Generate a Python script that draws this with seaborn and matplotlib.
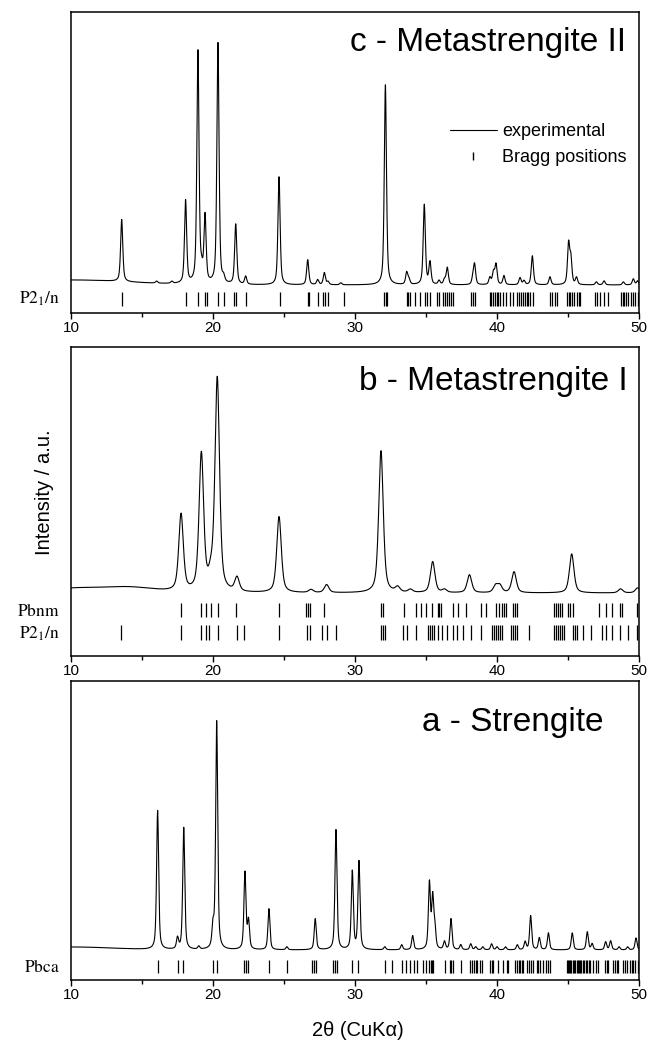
import numpy as np
import pandas as pd
import matplotlib
matplotlib.use("Agg")
import matplotlib.pyplot as plt
from matplotlib.lines import Line2D
from matplotlib.ticker import MultipleLocator
import seaborn as sns

# ---------------- data ----------------
# panel c - Metastrengite II : peak positions (2theta), heights (a.u.)
c_pos = [13.57, 16.03, 17.1, 18.07, 18.94, 19.2, 19.44, 20.35, 20.75, 21.6, 22.3,
         24.65, 26.67, 27.37, 27.84, 28.1, 29.0, 32.14, 33.64, 33.8, 34.88, 35.28,
         35.92, 36.3, 36.5, 38.3, 38.42, 39.5, 39.75, 39.93, 40.49, 41.62, 41.9,
         42.49, 43.73, 45.04, 45.2, 45.6, 47.0, 47.54, 48.9, 49.6, 49.9]
c_int = [62, 2, 2, 83, 232, 10, 66, 241, 5, 60, 8,
         108, 25, 5, 12, 3, 2, 200, 12, 5, 80, 22,
         4, 5, 17, 6, 20, 7, 12, 20, 9, 7, 4,
         29, 8, 40, 25, 7, 3, 4, 3, 6, 4]
c_bg_pos, c_bg_int, c_bg_wid = [10.0], [5], [4.0]
c_bragg = [13.57, 18.08, 18.94, 19.44, 19.58, 20.35, 20.75, 21.48, 21.62, 22.30, 24.70,
           26.67, 26.76, 27.37, 27.77, 27.91, 28.12, 29.20, 32.05, 32.15, 32.25, 33.65,
           33.75, 33.9, 34.23, 34.58, 34.93, 35.05, 35.28, 35.75, 35.94, 36.2, 36.35,
           36.5, 36.6, 36.75, 36.9, 38.2, 38.3, 38.45, 39.5, 39.6, 39.7, 39.86, 40.0,
           40.1, 40.2, 40.45, 40.6, 40.9, 41.1, 41.4, 41.55, 41.7, 41.85, 42.0, 42.1,
           42.2, 42.35, 42.5, 43.75, 43.9, 44.05, 44.2, 44.95, 45.05, 45.15, 45.3,
           45.45, 45.6, 45.75, 45.85, 46.9, 47.05, 47.25, 47.55, 47.8, 48.75, 48.85,
           48.95, 49.05, 49.2, 49.45, 49.6, 49.75, 49.9]

# panel b - Metastrengite I
b_pos = [17.75, 19.18, 19.85, 20.3, 21.69, 24.65, 26.9, 28.0, 31.83, 33.0, 33.9,
         35.47, 36.3, 38.06, 39.9, 40.2, 41.2, 45.26, 48.7, 49.9]
b_int = [77, 137, 12, 213, 14, 76, 3, 8, 142, 5, 3,
         31, 3, 18, 7, 7, 21, 39, 4, 5]
b_bg_pos, b_bg_int, b_bg_wid = [10.0, 13.8], [4, 6], [1.5, 2.0]
b_bragg_pbnm = [17.76, 19.19, 19.51, 19.88, 20.38, 21.63, 24.68, 26.57, 26.72, 26.86,
                27.82, 31.80, 31.95, 33.43, 34.27, 34.65, 35.0, 35.44, 35.81, 35.93,
                36.05, 36.89, 37.27, 37.85, 38.84, 39.22, 39.94, 40.15, 40.32, 40.47,
                40.64, 41.1, 41.25, 41.4, 44.01, 44.16, 44.3, 44.45, 44.59, 45.03,
                45.17, 45.32, 47.21, 47.65, 48.08, 48.66, 48.81, 49.83]
b_bragg_p21n = [13.49, 17.76, 19.19, 19.51, 19.71, 20.38, 21.69, 22.18, 24.68, 26.63,
                26.86, 27.67, 28.02, 28.66, 31.80, 31.95, 32.09, 33.40, 33.69, 34.27,
                35.15, 35.29, 35.44, 35.58, 35.87, 36.16, 36.45, 36.89, 37.18, 37.62,
                38.2, 38.84, 39.65, 39.80, 39.94, 40.09, 40.23, 40.38, 40.96, 41.1,
                41.25, 41.4, 42.27, 44.01, 44.16, 44.3, 44.45, 44.59, 44.74, 45.32,
                45.47, 45.61, 46.05, 46.63, 47.36, 47.65, 48.08, 48.66, 49.24, 49.83, 49.97]

# panel a - Strengite
a_pos = [16.1, 17.5, 17.94, 19.0, 20.0, 20.26, 22.25, 22.5, 23.94, 25.2, 27.2, 28.66,
         29.81, 30.28, 32.1, 33.29, 34.06, 35.24, 35.47, 35.62, 36.3, 36.76, 37.45,
         38.15, 38.5, 39.0, 39.62, 40.0, 40.6, 41.43, 41.98, 42.37, 42.98, 43.62,
         45.3, 46.36, 46.7, 47.65, 48.0, 48.6, 49.2, 49.79]
a_int = [139, 11, 122, 3, 20, 228, 77, 28, 41, 3, 31, 120,
         78, 88, 3, 5, 14, 66, 50, 20, 8, 31, 5,
         6, 3, 3, 6, 3, 3, 5, 8, 34, 12, 17,
         17, 18, 6, 8, 9, 3, 3, 12]
a_bg_pos, a_bg_int, a_bg_wid = [10.0], [3], [3.0]
a_bragg = [16.1, 17.51, 17.91, 20.02, 20.26, 22.21, 22.32, 22.44, 23.94, 25.19, 26.99,
           27.11, 27.25, 28.47, 28.59, 28.71, 29.79, 30.24, 32.11, 32.58, 33.29, 33.59,
           33.87, 34.15, 34.34, 34.81, 35.0, 35.23, 35.33, 35.43, 35.52, 36.34, 36.69,
           36.79, 36.88, 37.44, 38.1, 38.22, 38.35, 38.5, 38.62, 38.78, 38.92, 39.51,
           39.63, 39.74, 40.09, 40.45, 40.68, 40.8, 41.27, 41.4, 41.52, 41.63, 41.75,
           41.85, 42.09, 42.25, 42.4, 42.56, 42.79, 42.9, 43.03, 43.26, 43.42, 43.57,
           43.73, 44.91, 44.98, 45.06, 45.15, 45.24, 45.32, 45.41, 45.5, 45.6, 45.68,
           45.78, 45.86, 45.95, 46.05, 46.15, 46.26, 46.36, 46.46, 46.55, 46.78, 46.95,
           47.14, 47.6, 47.72, 47.84, 48.19, 48.3, 48.42, 48.54, 48.9, 49.02, 49.13,
           49.37, 49.5, 49.6, 49.75, 49.96]

x_ticks = [10, 20, 30, 40, 50]
titles = ["c - Metastrengite II", "b - Metastrengite I", "a - Strengite"]

# ---------------- profile building ----------------
tt = np.linspace(10, 50, 4001)


def profile(pos, inten, fwhm, bg_pos, bg_int, bg_wid, eta=0.55):
    y = np.zeros_like(tt)
    hw = fwhm / 2.0
    sig = fwhm / 2.3548
    for p, h in zip(pos, inten):
        d = tt - p
        lor = 1.0 / (1.0 + (d / hw) ** 2)
        gau = np.exp(-0.5 * (d / sig) ** 2)
        y += h * (eta * lor + (1 - eta) * gau)
    for p, h, w in zip(bg_pos, bg_int, bg_wid):
        y += h * np.exp(-0.5 * ((tt - p) / w) ** 2)
    return y


y_c = profile(c_pos, c_int, 0.18, c_bg_pos, c_bg_int, c_bg_wid)
y_b = profile(b_pos, b_int, 0.38, b_bg_pos, b_bg_int, b_bg_wid)
y_a = profile(a_pos, a_int, 0.17, a_bg_pos, a_bg_int, a_bg_wid)

# ---------------- figure ----------------
sns.set_theme(style="ticks")
plt.rcParams["font.family"] = ["Liberation Sans", "DejaVu Sans"]
plt.rcParams["mathtext.fontset"] = "stix"
plt.rcParams["text.color"] = "black"
plt.rcParams["axes.labelcolor"] = "black"
plt.rcParams["xtick.color"] = "black"
plt.rcParams["ytick.color"] = "black"

W, H = 648, 1042
fig = plt.figure(figsize=(W / 100, H / 100), dpi=100)


def add_axes(top_px, bot_px):
    return fig.add_axes([71 / W, 1 - bot_px / H, (639 - 71) / W, (bot_px - top_px) / H])


ax_c = add_axes(12, 313)
ax_b = add_axes(347, 656)
ax_a = add_axes(681, 980)

panels = [
    (ax_c, y_c, (-28, 273), [(c_bragg, -21, -7)]),
    (ax_b, y_b, (-63, 246), [(b_bragg_pbnm, -24, -10), (b_bragg_p21n, -47, -32)]),
    (ax_a, y_a, (-30, 269), [(a_bragg, -23, -10)]),
]

for ax, yy, ylim, braggs in panels:
    df = pd.DataFrame({"tt": tt, "I": yy})
    sns.lineplot(data=df, x="tt", y="I", ax=ax, color="black", lw=0.8,
                 errorbar=None, estimator=None)
    for bl, lo, hi in braggs:
        ax.vlines(bl, lo, hi, color="black", lw=0.9)
    ax.set_xlim(10, 50)
    ax.set_ylim(*ylim)
    ax.set_yticks([])
    ax.set_xticks(x_ticks)
    ax.xaxis.set_minor_locator(MultipleLocator(5))
    ax.tick_params(axis="x", which="major", direction="out", length=4, width=1.0,
                   labelsize=11, pad=2, colors="black")
    ax.tick_params(axis="x", which="minor", direction="out", length=3, width=1.0,
                   colors="black")
    ax.set_xlabel("")
    ax.set_ylabel("")
    for s in ax.spines.values():
        s.set_visible(True)
        s.set_linewidth(1.1)
        s.set_color("black")

# titles
fig.text(626 / W, 1 - 51 / H, titles[0], ha="right", va="baseline", fontsize=24, color="black")
fig.text(628 / W, 1 - 390 / H, titles[1], ha="right", va="baseline", fontsize=24, color="black")
fig.text(603 / W, 1 - 731 / H, titles[2], ha="right", va="baseline", fontsize=24, color="black")

# phase labels (serif)
fig.text(60 / W, 1 - 299 / H, r"$\mathrm{P2_1/n}$", ha="right", va="center", fontsize=12.5)
fig.text(60 / W, 1 - 611 / H, r"$\mathrm{Pbnm}$", ha="right", va="center", fontsize=12.5)
fig.text(60 / W, 1 - 634 / H, r"$\mathrm{P2_1/n}$", ha="right", va="center", fontsize=12.5)
fig.text(60 / W, 1 - 967 / H, r"$\mathrm{Pbca}$", ha="right", va="center", fontsize=12.5)

# axis labels
fig.text(45 / W, 1 - 492 / H, "Intensity / a.u.", rotation=90, ha="center", va="center",
         fontsize=14.5)
fig.text(358 / W, 1 - 1031 / H, "2θ (CuKα)", ha="center", va="center", fontsize=14.5)

# legend
handles = [Line2D([], [], color="black", lw=0.8),
           Line2D([], [], color="black", marker="|", ls="none", ms=6, mew=1.0)]
ax_c.legend(handles, ["experimental", "Bragg positions"], loc="upper left",
            bbox_to_anchor=(450 / W, 1 - 123 / H), bbox_transform=fig.transFigure,
            frameon=False, fontsize=13, handlelength=2.6, handletextpad=0.3,
            borderpad=0, borderaxespad=0, labelspacing=0.5, labelcolor="black")

fig.savefig("out.png", dpi=100)
